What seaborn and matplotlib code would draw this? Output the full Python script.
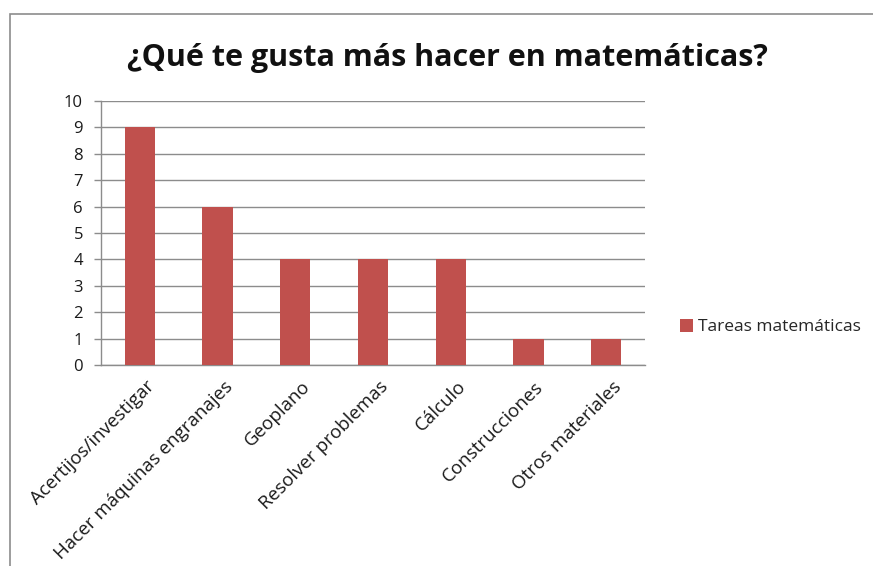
import matplotlib
matplotlib.use("Agg")
import matplotlib.pyplot as plt
import matplotlib.transforms as mtransforms
import seaborn as sns
import pandas as pd
from matplotlib.patches import Rectangle, Patch

categories = ["Acertijos/investigar", "Hacer máquinas engranajes", "Geoplano",
              "Resolver problemas", "Cálculo", "Construcciones", "Otros materiales"]
values = [9, 6, 4, 4, 4, 1, 1]
series_name = "Tareas matemáticas"
title = "¿Qué te gusta más hacer en matemáticas?"
yticks = list(range(0, 11))

df = pd.DataFrame({"categoria": categories, "valor": values})

sns.set_theme(style="white")
plt.rcParams["font.family"] = ["Open Sans", "DejaVu Sans"]

fig = plt.figure(figsize=(8.73, 5.66), dpi=100)
ax = fig.add_axes([0.1157, 0.3551, 0.6231, 0.4665])

bar_color = "#C0504D"
sns.barplot(data=df, x="categoria", y="valor", color=bar_color, width=0.39,
            saturation=1, linewidth=0, edgecolor="none", ax=ax, zorder=3)

ax.set_ylim(0, 10)
ax.set_xlim(-0.5, len(categories) - 0.5)
ax.set_yticks(yticks)
ax.set_yticklabels([str(t) for t in yticks], fontsize=12, color="#1a1a1a")
ax.yaxis.grid(True, color="#8c8c8c", linewidth=1.0, zorder=0)
ax.set_axisbelow(True)
ax.set_xlabel("")
ax.set_ylabel("")

for s in ["top", "right"]:
    ax.spines[s].set_visible(False)
for s in ["left", "bottom"]:
    ax.spines[s].set_color("#8c8c8c")
    ax.spines[s].set_linewidth(1.0)

ax.tick_params(axis="y", which="major", left=True, length=5, width=1.0,
               color="#8c8c8c", pad=8)
ax.tick_params(axis="x", which="major", bottom=False, pad=3)

ax.set_xticks(range(len(categories)))
ax.set_xticklabels(categories, rotation=45, ha="right", rotation_mode="anchor",
                   fontsize=13.5, color="#1a1a1a")
shift = mtransforms.ScaledTranslation(6 / 100, 0, fig.dpi_scale_trans)
for lbl in ax.get_xticklabels():
    lbl.set_transform(lbl.get_transform() + shift)

fig.text(0.513, 0.897, title, ha="center", va="center", fontsize=22,
         fontweight="bold", color="#111111")

handles = [Patch(facecolor=bar_color, edgecolor="none", label=series_name)]
fig.legend(handles=handles, loc="center left", bbox_to_anchor=(0.771, 0.422),
           frameon=False, fontsize=12.5, handlelength=0.75, handleheight=0.75,
           handletextpad=0.3, borderaxespad=0)

# outer chart border
fig.add_artist(Rectangle((0.0115, -0.01), 1.0, 0.985, transform=fig.transFigure,
                         fill=False, edgecolor="#8c8c8c", linewidth=1.2))

fig.savefig("out.png", dpi=100, facecolor="white")
